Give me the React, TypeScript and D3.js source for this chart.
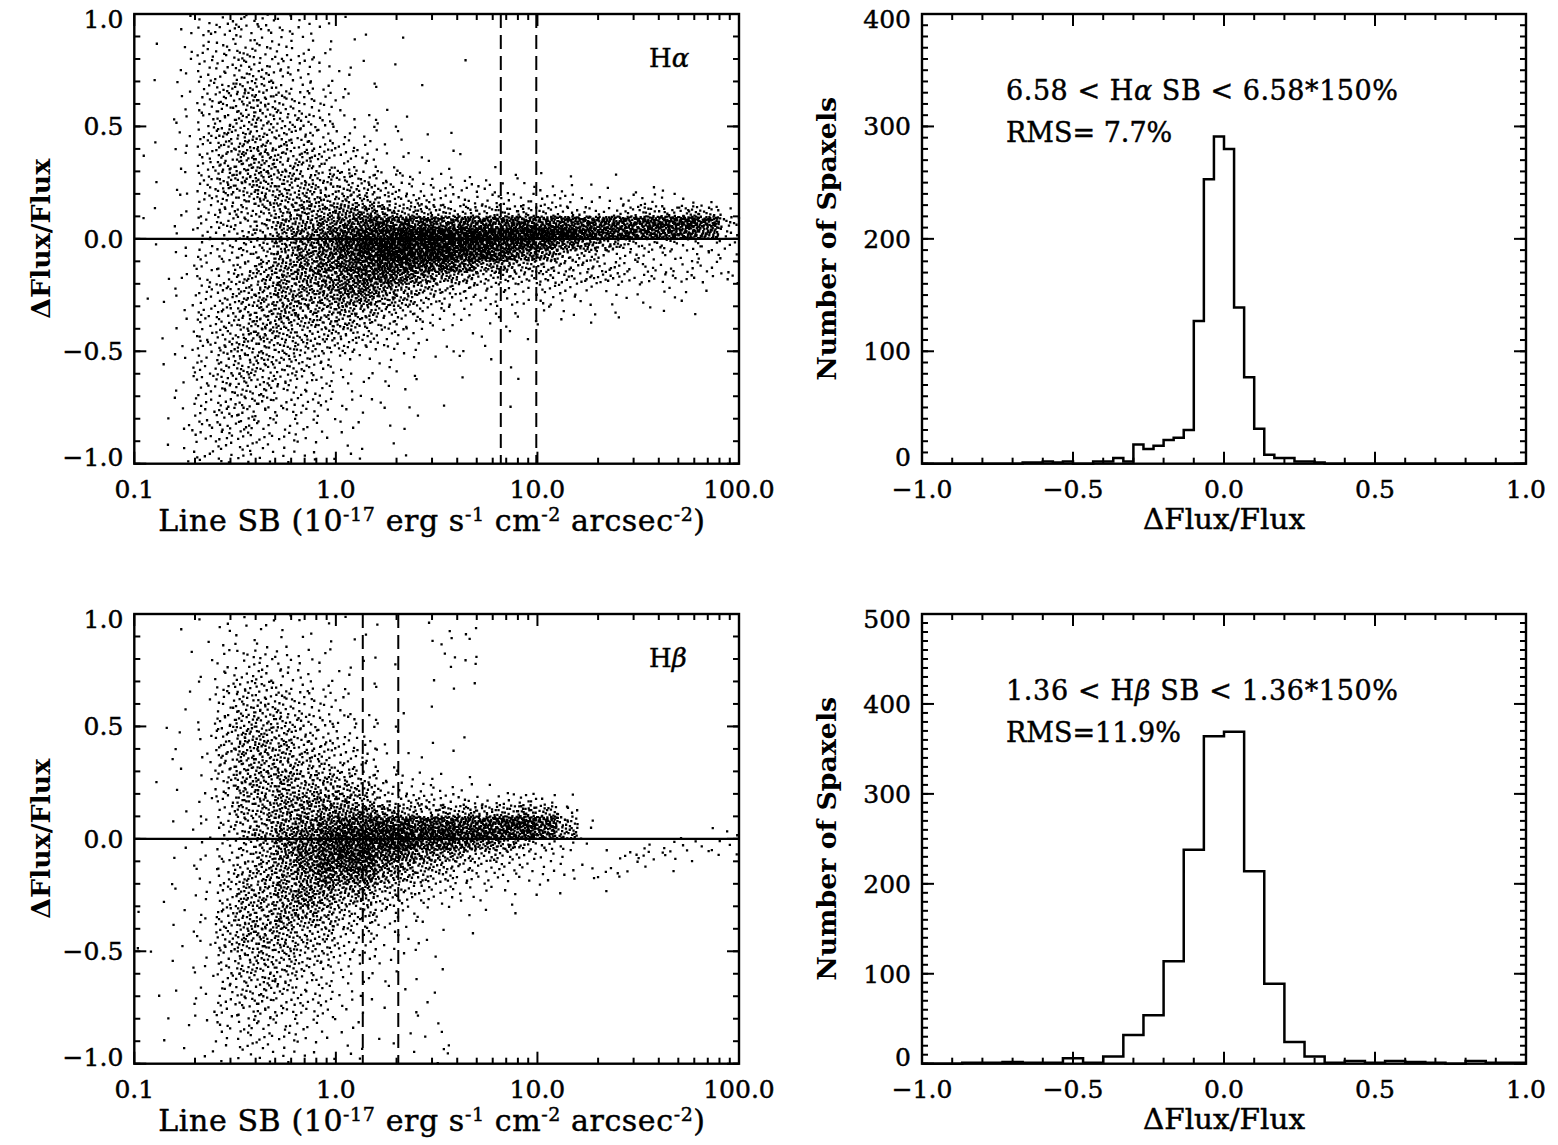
import React, { useMemo } from "react";
import * as d3 from "d3";

// ---------------- scatter panels ----------------
// One string per 0.1 dex column of line SB, starting at SB = 0.1.
// Each string has 40 cells from ΔFlux/Flux = +1.0 down to -1.0 (0.05 each);
// spaces only group the cells by ten. A code gives the number of spaxels in the cell.
const DENSITY_CODES = ".123456789abcde";
const DENSITY_COUNTS = [0, 1, 2, 4, 5, 8, 11, 15, 21, 28, 36, 46, 58, 72, 88];
const SB_START_LOG = -1;
const SB_STEP_DEX = 0.1;
const DFF_STEP = 0.05;

const HA_COLUMNS = [
  ".......... ..1.....1. .....1.... ..........",
  "..1..1...1 .1..1..1.. 1..1.1..1. .1...1..1.",
  "1211212112 2121121212 1212121212 2121212121",
  "2323333443 4444443333 3333434344 3434334323",
  "3434445555 6656665554 4444555555 5555454443",
  "4445556666 6677766555 5556666666 6665555443",
  "3444455666 6677777666 6677777776 6655544332",
  "2333444555 5666777788 8888888776 6554433322",
  "2223334445 5566677889 9999887766 5544333222",
  "1112222334 445566789a aaa9987765 4433322211",
  "1.1.121212 33446679ab cbbaa98765 3221212111",
  ".1..1.1.11 22335679bc dcbba97654 2121111.11",
  "....1.1.11 21224568bc ddcb986543 1211111.1.",
  "..1......1 11213457bd ddca875432 21111.1..1",
  "......1... 1.112357bd ddb9754321 1.1..1....",
  ".......... 1.112346ad ddb8643211 1...1.....",
  "....1..... ..1.2346bd dca7532111 1.1.......",
  ".......... ...11346bd dc86432111 1.........",
  ".......... ....1246bd cb8643211. .1..1.....",
  ".......... ....1246bd ca7532111. ..1.......",
  ".......... ....1245bd b9654321.. ..........",
  ".......... ....1235bd a7554221.. ..........",
  ".......... .....124bc 96552211.. ..........",
  ".......... ....1124bc 8455211... ..........",
  ".......... .....135bc 6444211... ..........",
  ".......... .....136cb 5344111... ..........",
  ".......... .....126cb 5333211... ..........",
  ".......... ......27cb 4333111... ..........",
  ".......... ......16ba 43321..... ..........",
  ".......... .......264 3223...... ..........",
];

const HB_COLUMNS = [
  ".......... .......... ......1..1 1.........",
  ".......... 1.1.1...1. .1..11.1.. 1..1.1.1..",
  ".1.1..1.1. 1.11.1.1.1 1.1.1.1.11 .1.11.1.1.",
  "1.1.1111.1 2121212121 1212121212 1212121.11",
  "1212234445 5555544443 3344445555 4444333221",
  "1223345566 7777777666 5566777776 6655544332",
  "1223345566 7777777777 7777777777 6665554332",
  "1122334556 6777888889 9988888877 6655444322",
  "1112233445 556677889a aaa9998766 5544433221",
  "1.12122334 45567789ab bbba987765 5443332211",
  "1.1.121223 34456789bc ccba876544 3322211111",
  ".1.11.1.12 23345679bc ccba876543 3221111.11",
  "1...1.1..1 11223458bc cb98654322 1111.1.11.",
  "........1. 1.112357bc ca87543221 11.1.1.11.",
  "1.1..1..1. .11.2356bc b976432111 1.1111.1..",
  ".1221.1... ..1.1247bc b865321.1. .1....1122",
  ".2112.1... 1...1247bc a754221.1. ..........",
  ".......... .....137bc 9643211... ..........",
  ".......... .....137cb 8543211... ..........",
  ".......... ......58cb 64321..... ..........",
  ".......... ......37ba 43221..... ..........",
  ".......... ......1478 31221..... ..........",
  ".......... ........12 1.21...... ..........",
  ".......... .......... .1221..... ..........",
  ".......... .......... .321...... ..........",
  ".......... .......... 231....... ..........",
  ".......... .......... 231....... ..........",
  ".......... .........1 22........ ..........",
  ".......... .........1 22........ ..........",
  ".......... .........2 21........ ..........",
];

// dashed SB limits of the histogram samples
const HA_CUTS = [6.58, 6.58 * 1.5];
const HB_CUTS = [1.36, 1.36 * 1.5];

// ---------------- histograms ----------------
const HA_HIST_BIN = 1 / 30;
const HA_HIST = [
  0, 0, 0, 0, 0, 0, 0, 0, 0, 0,
  1, 1, 2, 1, 2, 0, 0, 2, 2, 5,
  2, 17, 13, 16, 21, 23, 30, 127, 253, 291,
  280, 139, 77, 31, 8, 5, 5, 2, 2, 1,
  0, 0, 0, 0, 0, 0, 0, 0, 0, 0,
  0, 0, 0, 0, 0, 0, 0, 0, 0, 0,
];
const HB_HIST_BIN = 1 / 15;
const HB_HIST = [
  0, 0, 1, 1, 2, 1, 1, 6, 1, 8,
  32, 54, 114, 238, 364, 369, 214, 89, 24, 8,
  1, 3, 1, 3, 2, 1, 0, 3, 1, 1,
];

// ---------------- ticks ----------------
const SB_TICKS = [0.1, 1, 10, 100];
const SB_TICK_LABELS = ["0.1", "1.0", "10.0", "100.0"];
const SB_MINOR = [0.1, 1, 10].flatMap((d) => d3.range(2, 10).map((m) => d * m));
const DFF_TICKS = [-1, -0.5, 0, 0.5, 1];
const DFF_TICK_LABELS = ["\u22121.0", "\u22120.5", "0.0", "0.5", "1.0"];
const DFF_MINOR = d3.range(-10, 11).map((i) => i / 10);
const HA_COUNT_TICKS = [0, 100, 200, 300, 400];
const HB_COUNT_TICKS = [0, 100, 200, 300, 400, 500];

const FONT = "'DejaVu Serif', 'Liberation Serif', serif";
const TICK_FS = 25;
const LEFT_X = [134.3, 739];
const RIGHT_X = [922, 1526];
const PANEL_H = 449.7;
const TEXT_STROKE = 0.45;

// Halton sequence: spreads a cell's spaxels evenly, no randomness
function halton(i: number, base: number) {
  let f = 1;
  let r = 0;
  while (i > 0) {
    f /= base;
    r += f * (i % base);
    i = Math.floor(i / base);
  }
  return r;
}

// turn the cell counts into dots
function stipple(columns: string[], x: any, y: any, size: number) {
  const parts: string[] = [];
  columns.forEach((col, c) => {
    const cells = col.replace(/ /g, "");
    for (let k = 0; k < cells.length; k++) {
      const n = DENSITY_COUNTS[DENSITY_CODES.indexOf(cells[k])] || 0;
      if (!n) continue;
      const lx0 = SB_START_LOG + c * SB_STEP_DEX;
      const yTop = 1 - k * DFF_STEP;
      const start = 1 + ((c * 73 + k * 151) % 509);
      for (let i = 0; i < n; i++) {
        const u = halton(start + i, 2);
        const v = halton(start + i, 3);
        const px = x(Math.pow(10, lx0 + u * SB_STEP_DEX)) - size / 2;
        const py = y(yTop - v * DFF_STEP) - size / 2;
        parts.push(`M${px.toFixed(1)} ${py.toFixed(1)}h${size}v${size}h-${size}z`);
      }
    }
  });
  return parts.join("");
}

interface FrameProps {
  x: any;
  y: any;
  xMajor: number[];
  xMinor: number[];
  xLabels: string[];
  yMajor: number[];
  yMinor: number[];
  yLabels: string[];
}

function Frame({ x, y, xMajor, xMinor, xLabels, yMajor, yMinor, yLabels }: FrameProps) {
  const [x0, x1] = x.range();
  const [y1, y0] = y.range();
  const MAJ = 12;
  const MIN = 6;
  const xt = (v: number, len: number, key: string) => (
    <g key={key}>
      <line x1={x(v)} x2={x(v)} y1={y1} y2={y1 - len} />
      <line x1={x(v)} x2={x(v)} y1={y0} y2={y0 + len} />
    </g>
  );
  const yt = (v: number, len: number, key: string) => (
    <g key={key}>
      <line x1={x0} x2={x0 + len} y1={y(v)} y2={y(v)} />
      <line x1={x1} x2={x1 - len} y1={y(v)} y2={y(v)} />
    </g>
  );
  // end labels sit inside the axis span, as in the original
  const yShift = (i: number) => (i === 0 ? -7 : i === yMajor.length - 1 ? 5 : 0);
  return (
    <g>
      <g stroke="#000" strokeWidth={2} fill="none">
        {xMinor.map((v) => xt(v, MIN, "xm" + v))}
        {xMajor.map((v) => xt(v, MAJ, "xM" + v))}
        {yMinor.map((v) => yt(v, MIN, "ym" + v))}
        {yMajor.map((v) => yt(v, MAJ, "yM" + v))}
        <rect x={x0} y={y0} width={x1 - x0} height={y1 - y0} strokeWidth={2.4} />
      </g>
      <g fill="#000" stroke="#000" strokeWidth={TEXT_STROKE} fontSize={TICK_FS}>
        {xMajor.map((v, i) => (
          <text key={"xl" + v} x={x(v)} y={y1 + 34} textAnchor="middle">
            {xLabels[i]}
          </text>
        ))}
        {yMajor.map((v, i) => (
          <text key={"yl" + v} x={x0 - 11} y={y(v) + 9 + yShift(i)} textAnchor="end">
            {yLabels[i]}
          </text>
        ))}
      </g>
    </g>
  );
}

function ScatterPanel({ top, columns, cuts, line }: { top: number; columns: string[]; cuts: number[]; line: string }) {
  const x = d3.scaleLog().domain([0.1, 100]).range(LEFT_X);
  const y = d3.scaleLinear().domain([-1, 1]).range([top + PANEL_H, top]);
  const dots = useMemo(() => stipple(columns, x, y, 2.3), [columns, top]);
  const sup = 19;
  return (
    <g>
      <path d={dots} fill="#000" />
      <line x1={LEFT_X[0]} x2={LEFT_X[1]} y1={y(0)} y2={y(0)} stroke="#000" strokeWidth={2.2} />
      {cuts.map((c) => (
        <line key={c} x1={x(c)} x2={x(c)} y1={top} y2={top + PANEL_H} stroke="#000" strokeWidth={2} strokeDasharray="14 7" />
      ))}
      <Frame
        x={x}
        y={y}
        xMajor={SB_TICKS}
        xMinor={SB_MINOR}
        xLabels={SB_TICK_LABELS}
        yMajor={DFF_TICKS}
        yMinor={DFF_MINOR}
        yLabels={DFF_TICK_LABELS}
      />
      <g fill="#000" stroke="#000" strokeWidth={TEXT_STROKE}>
        <text x={649} y={top + 53} fontSize={26}>
          H<tspan fontStyle="italic">{line}</tspan>
        </text>
        <text x={432} y={top + 517} textAnchor="middle" fontSize={30} letterSpacing={0.6}>
          {"Line SB (10"}
          <tspan dy={-10} fontSize={sup}>-17</tspan>
          <tspan dy={10}>{" erg s"}</tspan>
          <tspan dy={-10} fontSize={sup}>-1</tspan>
          <tspan dy={10}>{" cm"}</tspan>
          <tspan dy={-10} fontSize={sup}>-2</tspan>
          <tspan dy={10}>{" arcsec"}</tspan>
          <tspan dy={-10} fontSize={sup}>-2</tspan>
          <tspan dy={10}>)</tspan>
        </text>
      </g>
      <text
        transform={`translate(50,${top + PANEL_H / 2}) rotate(-90)`}
        textAnchor="middle"
        fontSize={26}
        fontWeight="bold"
        textLength={160}
        lengthAdjust="spacingAndGlyphs"
      >
        ΔFlux/Flux
      </text>
    </g>
  );
}

function HistPanel({
  top,
  counts,
  bin,
  yMax,
  yTicks,
  line,
  cut,
  rms,
}: {
  top: number;
  counts: number[];
  bin: number;
  yMax: number;
  yTicks: number[];
  line: string;
  cut: string;
  rms: string;
}) {
  const x = d3.scaleLinear().domain([-1, 1]).range(RIGHT_X);
  const y = d3.scaleLinear().domain([0, yMax]).range([top + PANEL_H, top]);
  const pts: [number, number][] = counts.map((c, i) => [-1 + i * bin, c]);
  pts.push([-1 + counts.length * bin, counts[counts.length - 1]]);
  const step = d3
    .line<[number, number]>()
    .x((d) => x(d[0]))
    .y((d) => y(d[1]))
    .curve(d3.curveStepAfter)(pts);
  return (
    <g>
      <path d={step || ""} fill="none" stroke="#000" strokeWidth={2.5} />
      <Frame
        x={x}
        y={y}
        xMajor={DFF_TICKS}
        xMinor={DFF_MINOR}
        xLabels={DFF_TICK_LABELS}
        yMajor={yTicks}
        yMinor={d3.range(0, yMax + 1, 10)}
        yLabels={yTicks.map(String)}
      />
      <g fill="#000" stroke="#000" strokeWidth={TEXT_STROKE}>
        <text x={1006} y={top + 85.5} fontSize={27} textLength={392} lengthAdjust="spacing">
          {cut} &lt; H<tspan fontStyle="italic">{line}</tspan> SB &lt; {cut}*150%
        </text>
        <text x={1006} y={top + 128} fontSize={27}>
          {rms}
        </text>
        <text x={1224} y={top + 515} textAnchor="middle" fontSize={27} textLength={162} lengthAdjust="spacingAndGlyphs">
          ΔFlux/Flux
        </text>
      </g>
      <text
        transform={`translate(836,${top + PANEL_H / 2}) rotate(-90)`}
        textAnchor="middle"
        fontSize={26}
        fontWeight="bold"
        textLength={284}
        lengthAdjust="spacingAndGlyphs"
      >
        Number of Spaxels
      </text>
    </g>
  );
}

export default function App() {
  return (
    <svg
      width={1558}
      height={1145}
      style={{ position: "absolute", left: 0, top: 0, background: "#fff" }}
      fontFamily={FONT}
    >
      <rect width={1558} height={1145} fill="#fff" />
      <ScatterPanel top={14} columns={HA_COLUMNS} cuts={HA_CUTS} line="α" />
      <HistPanel top={14} counts={HA_HIST} bin={HA_HIST_BIN} yMax={400} yTicks={HA_COUNT_TICKS} line="α" cut="6.58" rms={"RMS=\u00a07.7%"} />
      <ScatterPanel top={614} columns={HB_COLUMNS} cuts={HB_CUTS} line="β" />
      <HistPanel top={614} counts={HB_HIST} bin={HB_HIST_BIN} yMax={500} yTicks={HB_COUNT_TICKS} line="β" cut="1.36" rms="RMS=11.9%" />
    </svg>
  );
}
